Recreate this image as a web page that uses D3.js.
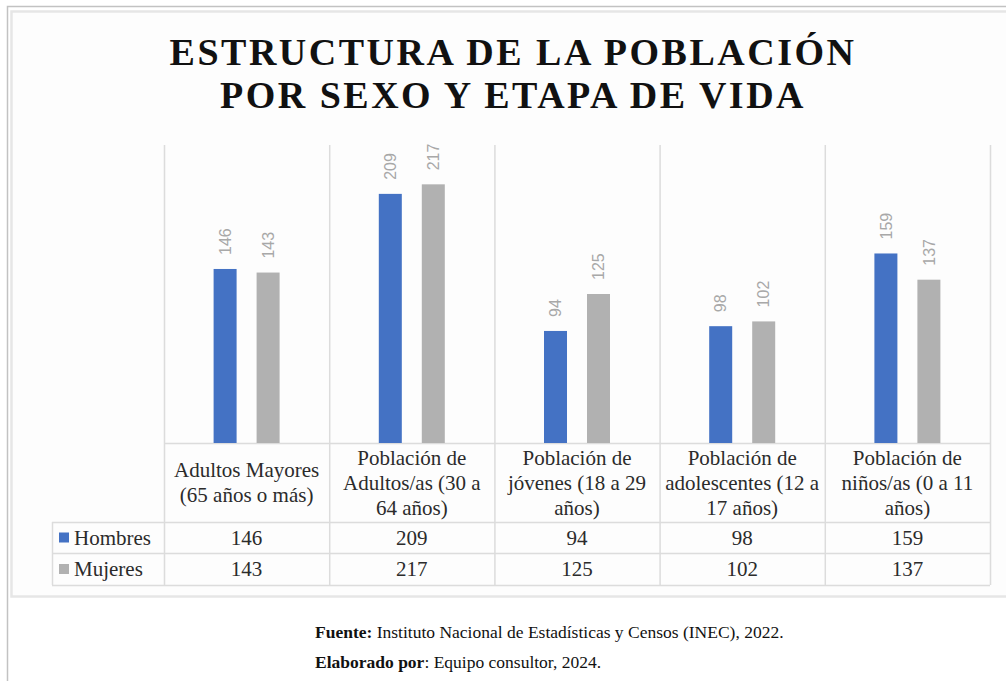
<!DOCTYPE html>
<html>
<head>
<meta charset="utf-8">
<script src="https://cdn.jsdelivr.net/npm/d3@7"></script>
<style>
  body { margin: 0; background: #fff; }
  svg { display: block; }
</style>
</head>
<body>
<svg id="chart"></svg>
<script>
const categories = [
  "Adultos Mayores (65 años o más)",
  "Población de Adultos/as (30 a 64 años)",
  "Población de jóvenes (18 a 29 años)",
  "Población de adolescentes (12 a 17 años)",
  "Población de niños/as (0 a 11 años)"
];
const series = ["Hombres", "Mujeres"];
const hombres = [146, 209, 94, 98, 159];
const mujeres = [143, 217, 125, 102, 137];
const titleLines = ["ESTRUCTURA DE LA POBLACIÓN", "POR SEXO Y ETAPA DE VIDA"];

const W = 1006, H = 681;
const colors = {Hombres: "#4472c4", Mujeres: "#b1b1b1"};
const serif = "'Liberation Serif', 'Times New Roman', serif";
const gridColor = "#dcdcdc";

const plot = {left: 164, right: 990, top: 145, bottom: 443};
const rows = {header: 522, r1: 553, r2: 585, legendLeft: 52};

const svg = d3.select("#chart").attr("width", W).attr("height", H);

// page frame
svg.append("rect").attr("width", W).attr("height", H).attr("fill", "#fff");
svg.append("path")
    .attr("d", `M7.5,${H} V6.5 H${W}`)
    .attr("fill", "none").attr("stroke", "#c2c2c2").attr("stroke-width", 1.5);
svg.append("rect")
    .attr("x", 11.5).attr("y", 11.5).attr("width", W).attr("height", 585)
    .attr("fill", "#fdfdfd").attr("stroke", "#e6e6e6").attr("stroke-width", 2.5);

// title
svg.append("text")
    .attr("x", 512).attr("font-family", serif).attr("font-weight", "bold")
    .attr("font-size", 38).attr("letter-spacing", 2.5)
    .attr("text-anchor", "middle").attr("fill", "#111")
  .selectAll("tspan")
  .data(titleLines)
  .join("tspan")
    .attr("x", 513)
    .attr("y", (d, i) => 65 + i * 43)
    .text(d => d);

const x = d3.scaleBand()
    .domain(categories)
    .range([plot.left, plot.right]);

const bw = x.bandwidth();
const xSub = d3.scaleBand()
    .domain(series)
    .range([bw / 2 - 33, bw / 2 + 33])
    .paddingInner(0.465);

const y = d3.scaleLinear()
    .domain([0, 250])
    .range([plot.bottom, plot.top]);

const data = categories.map((c, i) => ({
  cat: c,
  values: [{s: "Hombres", v: hombres[i]}, {s: "Mujeres", v: mujeres[i]}]
}));

// vertical grid / table column lines
const edges = categories.map(c => x(c)).concat([plot.right]);
svg.append("g").selectAll("line")
  .data(edges)
  .join("line")
    .attr("x1", d => d + 0.5).attr("x2", d => d + 0.5)
    .attr("y1", plot.top).attr("y2", rows.r2)
    .attr("stroke", gridColor).attr("stroke-width", 1.5);

// horizontal table lines
svg.append("line")
    .attr("x1", plot.left).attr("x2", plot.right)
    .attr("y1", plot.bottom + 0.5).attr("y2", plot.bottom + 0.5)
    .attr("stroke", gridColor).attr("stroke-width", 1.5);
svg.append("g").selectAll("line")
  .data([rows.header, rows.r1, rows.r2])
  .join("line")
    .attr("x1", rows.legendLeft).attr("x2", plot.right)
    .attr("y1", d => d + 0.5).attr("y2", d => d + 0.5)
    .attr("stroke", gridColor).attr("stroke-width", 1.5);
svg.append("line")
    .attr("x1", rows.legendLeft + 0.5).attr("x2", rows.legendLeft + 0.5)
    .attr("y1", rows.header).attr("y2", rows.r2)
    .attr("stroke", gridColor).attr("stroke-width", 1.5);

// bars
const groups = svg.append("g").selectAll("g")
  .data(data)
  .join("g")
    .attr("transform", d => `translate(${x(d.cat)},0)`);

groups.selectAll("rect")
  .data(d => d.values)
  .join("rect")
    .attr("x", d => xSub(d.s))
    .attr("y", d => y(d.v))
    .attr("width", xSub.bandwidth())
    .attr("height", d => y(0) - y(d.v))
    .attr("fill", d => colors[d.s]);

groups.selectAll("text")
  .data(d => d.values)
  .join("text")
    .attr("transform", d => `translate(${xSub(d.s) + xSub.bandwidth() / 2},${y(d.v) - 14}) rotate(-90)`)
    .attr("dy", "0.35em")
    .attr("font-family", "'Liberation Sans', Arial, sans-serif")
    .attr("font-size", 16)
    .attr("fill", "#a8a8a8")
    .text(d => d.v);

// category labels with wrapping
const wrapWidth = 160;
const measure = svg.append("text")
    .attr("font-family", serif).attr("font-size", 21).attr("visibility", "hidden");
const wrap = (str) => {
  const words = str.split(" ");
  const lines = [];
  let line = [];
  words.forEach((w) => {
    const test = line.concat([w]).join(" ");
    measure.text(test);
    if (line.length && measure.node().getComputedTextLength() > wrapWidth) {
      lines.push(line.join(" "));
      line = [w];
    } else {
      line.push(w);
    }
  });
  lines.push(line.join(" "));
  return lines;
};

const lineH = 25;
const headMid = (plot.bottom + rows.header) / 2;
svg.append("g").selectAll("text")
  .data(categories)
  .join("text")
    .attr("font-family", serif).attr("font-size", 21).attr("fill", "#2b2b2b")
    .attr("text-anchor", "middle")
    .each(function(d) {
      const lines = wrap(d);
      const t = d3.select(this);
      const cx = x(d) + bw / 2;
      lines.forEach((l, i) => {
        t.append("tspan")
            .attr("x", cx)
            .attr("y", headMid + (i - (lines.length - 1) / 2) * lineH)
            .attr("dy", "0.35em")
            .text(l);
      });
    });
measure.remove();

// value rows with legend keys
const rowMids = [(rows.header + rows.r1) / 2, (rows.r1 + rows.r2) / 2];
const rowValues = [hombres, mujeres];

series.forEach((s, j) => {
  const cy = rowMids[j];
  svg.append("rect")
      .attr("x", 59).attr("y", cy - 5).attr("width", 10).attr("height", 10)
      .attr("fill", colors[s]);
  svg.append("text")
      .attr("x", 74).attr("y", cy).attr("dy", "0.35em")
      .attr("font-family", serif).attr("font-size", 21).attr("fill", "#2b2b2b")
      .text(s);
  svg.append("g").selectAll("text")
    .data(rowValues[j])
    .join("text")
      .attr("x", (d, i) => x(categories[i]) + bw / 2)
      .attr("y", cy).attr("dy", "0.35em")
      .attr("text-anchor", "middle")
      .attr("font-family", serif).attr("font-size", 21).attr("fill", "#2b2b2b")
      .text(d => d);
});

// source notes
const notes = [
  {b: "Fuente:", t: " Instituto Nacional de Estadísticas y Censos (INEC), 2022."},
  {b: "Elaborado por", t: ": Equipo consultor, 2024."}
];
svg.append("g").selectAll("text")
  .data(notes)
  .join("text")
    .attr("x", 315)
    .attr("y", (d, i) => 638 + i * 30)
    .attr("font-family", serif).attr("font-size", 17.5).attr("fill", "#111")
    .each(function(d) {
      const t = d3.select(this);
      t.append("tspan").attr("font-weight", "bold").text(d.b);
      t.append("tspan").text(d.t);
    });
</script>
</body>
</html>
